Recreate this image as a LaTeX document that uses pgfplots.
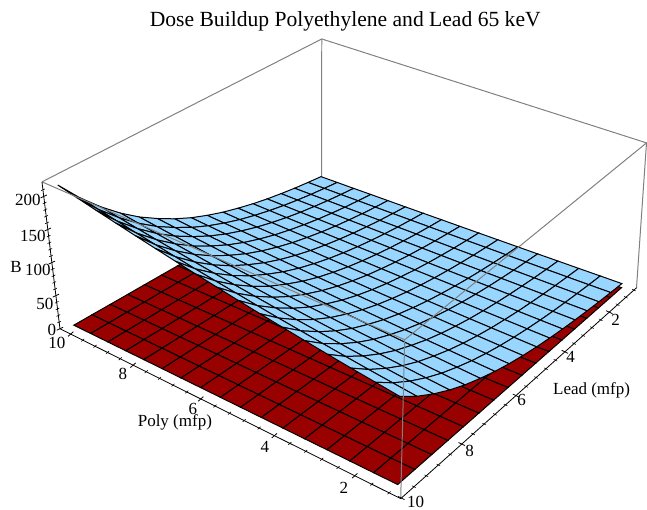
\documentclass[border=0pt]{standalone}
\usepackage{fontspec}
\setmainfont{Liberation Serif}
\usepackage{pgfplots}
\usepackage{pgfplotstable}
\pgfplotsset{compat=1.18}

% poly (mfp), lead (mfp), B of the blue sheet, B of the red sheet
\pgfplotstableread[row sep=\\]{
poly lead b red\\
10.2 0.9 12.3 1\\ 10.2 1.45 14.7 1\\ 10.2 2.01 17.6 1\\ 10.2 2.56 21.1 1\\ 10.2 3.11 25.1 1\\ 10.2 3.66 30 1\\ 10.2 4.22 36 1\\ 10.2 4.77 42.8 1\\ 10.2 5.33 51.3 1\\ 10.2 5.88 61.1 1\\ 10.2 6.43 73.1 1\\ 10.2 6.98 87.5 1\\ 10.2 7.54 104.4 1\\ 10.2 8.09 124.8 1\\ 10.2 8.64 149.1 1\\ 10.2 9.2 178.3 1\\ 10.2 9.75 213 1\\
9.64 0.9 11.9 1\\ 9.64 1.45 14.3 1\\ 9.64 2.01 17 1\\ 9.64 2.56 20.4 1\\ 9.64 3.11 24.3 1\\ 9.64 3.66 29.1 1\\ 9.64 4.22 34.8 1\\ 9.64 4.77 41.4 1\\ 9.64 5.33 49.7 1\\ 9.64 5.88 59.2 1\\ 9.64 6.43 70.7 1\\ 9.64 6.98 84.7 1\\ 9.64 7.54 101 1\\ 9.64 8.09 120.8 1\\ 9.64 8.64 144.3 1\\ 9.64 9.2 172.6 1\\ 9.64 9.75 206.2 1\\
9.08 0.9 11.5 1\\ 9.08 1.45 13.8 1\\ 9.08 2.01 16.5 1\\ 9.08 2.56 19.8 1\\ 9.08 3.11 23.5 1\\ 9.08 3.66 28.1 1\\ 9.08 4.22 33.7 1\\ 9.08 4.77 40.1 1\\ 9.08 5.33 48.1 1\\ 9.08 5.88 57.3 1\\ 9.08 6.43 68.4 1\\ 9.08 6.98 82 1\\ 9.08 7.54 97.8 1\\ 9.08 8.09 116.9 1\\ 9.08 8.64 139.7 1\\ 9.08 9.2 167 1\\ 9.08 9.75 199.5 1\\
8.51 0.9 11.2 1\\ 8.51 1.45 13.4 1\\ 8.51 2.01 15.9 1\\ 8.51 2.56 19.1 1\\ 8.51 3.11 22.8 1\\ 8.51 3.66 27.2 1\\ 8.51 4.22 32.6 1\\ 8.51 4.77 38.8 1\\ 8.51 5.33 46.5 1\\ 8.51 5.88 55.4 1\\ 8.51 6.43 66.2 1\\ 8.51 6.98 79.3 1\\ 8.51 7.54 94.6 1\\ 8.51 8.09 113.1 1\\ 8.51 8.64 135.1 1\\ 8.51 9.2 161.5 1\\ 8.51 9.75 193 1\\
7.95 0.9 10.8 1\\ 7.95 1.45 12.9 1\\ 7.95 2.01 15.4 1\\ 7.95 2.56 18.5 1\\ 7.95 3.11 22 1\\ 7.95 3.66 26.3 1\\ 7.95 4.22 31.6 1\\ 7.95 4.77 37.5 1\\ 7.95 5.33 45 1\\ 7.95 5.88 53.6 1\\ 7.95 6.43 64 1\\ 7.95 6.98 76.7 1\\ 7.95 7.54 91.5 1\\ 7.95 8.09 109.4 1\\ 7.95 8.64 130.7 1\\ 7.95 9.2 156.3 1\\ 7.95 9.75 186.7 1\\
7.39 0.9 10.4 1\\ 7.39 1.45 12.5 1\\ 7.39 2.01 14.9 1\\ 7.39 2.56 17.9 1\\ 7.39 3.11 21.3 1\\ 7.39 3.66 25.5 1\\ 7.39 4.22 30.5 1\\ 7.39 4.77 36.3 1\\ 7.39 5.33 43.5 1\\ 7.39 5.88 51.8 1\\ 7.39 6.43 61.9 1\\ 7.39 6.98 74.2 1\\ 7.39 7.54 88.5 1\\ 7.39 8.09 105.8 1\\ 7.39 8.64 126.4 1\\ 7.39 9.2 151.2 1\\ 7.39 9.75 180.6 1\\
6.83 0.9 10.1 1\\ 6.83 1.45 12.1 1\\ 6.83 2.01 14.4 1\\ 6.83 2.56 17.3 1\\ 6.83 3.11 20.6 1\\ 6.83 3.66 24.6 1\\ 6.83 4.22 29.5 1\\ 6.83 4.77 35.1 1\\ 6.83 5.33 42.1 1\\ 6.83 5.88 50.1 1\\ 6.83 6.43 59.9 1\\ 6.83 6.98 71.8 1\\ 6.83 7.54 85.6 1\\ 6.83 8.09 102.3 1\\ 6.83 8.64 122.2 1\\ 6.83 9.2 146.1 1\\ 6.83 9.75 174.6 1\\
6.26 0.9 9.8 1\\ 6.26 1.45 11.7 1\\ 6.26 2.01 13.9 1\\ 6.26 2.56 16.7 1\\ 6.26 3.11 19.9 1\\ 6.26 3.66 23.8 1\\ 6.26 4.22 28.5 1\\ 6.26 4.77 33.9 1\\ 6.26 5.33 40.7 1\\ 6.26 5.88 48.4 1\\ 6.26 6.43 57.9 1\\ 6.26 6.98 69.4 1\\ 6.26 7.54 82.7 1\\ 6.26 8.09 98.9 1\\ 6.26 8.64 118.2 1\\ 6.26 9.2 141.3 1\\ 6.26 9.75 168.8 1\\
5.7 0.9 9.4 1\\ 5.7 1.45 11.3 1\\ 5.7 2.01 13.5 1\\ 5.7 2.56 16.2 1\\ 5.7 3.11 19.3 1\\ 5.7 3.66 23 1\\ 5.7 4.22 27.6 1\\ 5.7 4.77 32.8 1\\ 5.7 5.33 39.4 1\\ 5.7 5.88 46.9 1\\ 5.7 6.43 56 1\\ 5.7 6.98 67.1 1\\ 5.7 7.54 80 1\\ 5.7 8.09 95.7 1\\ 5.7 8.64 114.3 1\\ 5.7 9.2 136.7 1\\ 5.7 9.75 163.3 1\\
5.14 0.9 9.1 1\\ 5.14 1.45 10.9 1\\ 5.14 2.01 13 1\\ 5.14 2.56 15.6 1\\ 5.14 3.11 18.6 1\\ 5.14 3.66 22.2 1\\ 5.14 4.22 26.7 1\\ 5.14 4.77 31.7 1\\ 5.14 5.33 38 1\\ 5.14 5.88 45.3 1\\ 5.14 6.43 54.1 1\\ 5.14 6.98 64.9 1\\ 5.14 7.54 77.3 1\\ 5.14 8.09 92.5 1\\ 5.14 8.64 110.5 1\\ 5.14 9.2 132.1 1\\ 5.14 9.75 157.8 1\\
4.58 0.9 8.8 1\\ 4.58 1.45 10.6 1\\ 4.58 2.01 12.6 1\\ 4.58 2.56 15.1 1\\ 4.58 3.11 18 1\\ 4.58 3.66 21.5 1\\ 4.58 4.22 25.8 1\\ 4.58 4.77 30.7 1\\ 4.58 5.33 36.8 1\\ 4.58 5.88 43.8 1\\ 4.58 6.43 52.3 1\\ 4.58 6.98 62.7 1\\ 4.58 7.54 74.8 1\\ 4.58 8.09 89.4 1\\ 4.58 8.64 106.8 1\\ 4.58 9.2 127.7 1\\ 4.58 9.75 152.6 1\\
4.01 0.9 8.5 1\\ 4.01 1.45 10.2 1\\ 4.01 2.01 12.2 1\\ 4.01 2.56 14.6 1\\ 4.01 3.11 17.4 1\\ 4.01 3.66 20.8 1\\ 4.01 4.22 24.9 1\\ 4.01 4.77 29.7 1\\ 4.01 5.33 35.6 1\\ 4.01 5.88 42.4 1\\ 4.01 6.43 50.6 1\\ 4.01 6.98 60.7 1\\ 4.01 7.54 72.3 1\\ 4.01 8.09 86.5 1\\ 4.01 8.64 103.3 1\\ 4.01 9.2 123.5 1\\ 4.01 9.75 147.6 1\\
3.45 0.9 8.2 1\\ 3.45 1.45 9.9 1\\ 3.45 2.01 11.8 1\\ 3.45 2.56 14.1 1\\ 3.45 3.11 16.8 1\\ 3.45 3.66 20.1 1\\ 3.45 4.22 24.1 1\\ 3.45 4.77 28.7 1\\ 3.45 5.33 34.4 1\\ 3.45 5.88 41 1\\ 3.45 6.43 48.9 1\\ 3.45 6.98 58.6 1\\ 3.45 7.54 69.9 1\\ 3.45 8.09 83.6 1\\ 3.45 8.64 99.9 1\\ 3.45 9.2 119.4 1\\ 3.45 9.75 142.7 1\\
2.89 0.9 8 1\\ 2.89 1.45 9.5 1\\ 2.89 2.01 11.4 1\\ 2.89 2.56 13.7 1\\ 2.89 3.11 16.3 1\\ 2.89 3.66 19.5 1\\ 2.89 4.22 23.3 1\\ 2.89 4.77 27.7 1\\ 2.89 5.33 33.3 1\\ 2.89 5.88 39.6 1\\ 2.89 6.43 47.3 1\\ 2.89 6.98 56.7 1\\ 2.89 7.54 67.6 1\\ 2.89 8.09 80.9 1\\ 2.89 8.64 96.6 1\\ 2.89 9.2 115.5 1\\ 2.89 9.75 138 1\\
2.33 0.9 7.7 1\\ 2.33 1.45 9.2 1\\ 2.33 2.01 11 1\\ 2.33 2.56 13.2 1\\ 2.33 3.11 15.8 1\\ 2.33 3.66 18.8 1\\ 2.33 4.22 22.6 1\\ 2.33 4.77 26.8 1\\ 2.33 5.33 32.2 1\\ 2.33 5.88 38.3 1\\ 2.33 6.43 45.8 1\\ 2.33 6.98 54.9 1\\ 2.33 7.54 65.4 1\\ 2.33 8.09 78.2 1\\ 2.33 8.64 93.5 1\\ 2.33 9.2 111.7 1\\ 2.33 9.75 133.5 1\\
1.76 0.9 7.5 1\\ 1.76 1.45 8.9 1\\ 1.76 2.01 10.7 1\\ 1.76 2.56 12.8 1\\ 1.76 3.11 15.2 1\\ 1.76 3.66 18.2 1\\ 1.76 4.22 21.8 1\\ 1.76 4.77 26 1\\ 1.76 5.33 31.1 1\\ 1.76 5.88 37.1 1\\ 1.76 6.43 44.3 1\\ 1.76 6.98 53.1 1\\ 1.76 7.54 63.3 1\\ 1.76 8.09 75.7 1\\ 1.76 8.64 90.4 1\\ 1.76 9.2 108.1 1\\ 1.76 9.75 129.2 1\\
1.2 0.9 7.2 1\\ 1.2 1.45 8.7 1\\ 1.2 2.01 10.3 1\\ 1.2 2.56 12.4 1\\ 1.2 3.11 14.8 1\\ 1.2 3.66 17.6 1\\ 1.2 4.22 21.1 1\\ 1.2 4.77 25.1 1\\ 1.2 5.33 30.1 1\\ 1.2 5.88 35.9 1\\ 1.2 6.43 42.9 1\\ 1.2 6.98 51.4 1\\ 1.2 7.54 61.3 1\\ 1.2 8.09 73.3 1\\ 1.2 8.64 87.5 1\\ 1.2 9.2 104.6 1\\ 1.2 9.75 125 1\\
}\sheets

\definecolor{boxgray}{gray}{0.5}

% the plot is in perspective: column values are projected to picture pixels
\pgfplotsset{
  table/proj/.style={
    x expr={PX(\thisrow{poly},\thisrow{lead},\thisrow{#1})},
    y expr={PY(\thisrow{poly},\thisrow{lead},\thisrow{#1})},
    z expr=0},
  table/proj/.default=b,
  sheet/.style={surf,shader=faceted,faceted color=black,line width=1pt,
    mesh/rows=17,mesh/cols=17,z buffer=none,point meta=#1}
}
\newcommand{\lab}[3]{\node[font=\fontsize{17}{17}\selectfont,inner sep=0pt] at (axis cs:#1,510-#2,0) {#3};}

\begin{document}
\begin{tikzpicture}
\begin{axis}[
  scale only axis,width=647pt,height=510pt,hide axis,clip=false,view={0}{90},
  xmin=0,xmax=647,ymin=0,ymax=510,zmin=-1,zmax=1,
  colormap={sheets}{rgb255=(153,0,0) rgb255=(153,214,255)},
  point meta min=0,point meta max=1,
  declare function={
    ss(\xa)=(\xa-0.935)/9.425;
    tt(\xa)=(10.02-\xa)/9.35;
    ww(\xa)=\xa/222;
    fd(\xa,\xb)=1+0.2223*\xa+0.2674*\xb;
    gd(\xa,\xb)=1+0.1799*\xa+0.2719*\xb;
    fx(\xa,\xb)=(401-327.66*\xa+406.3*\xb)/fd(\xa,\xb);
    fy(\xa,\xb)=(499-96.9*\xa-134*\xb)/fd(\xa,\xb);
    gx(\xa,\xb)=(405-355.44*\xa+417.9*\xb)/gd(\xa,\xb);
    gy(\xa,\xb)=(340-125.26*\xa-158.12*\xb)/gd(\xa,\xb);
    PX(\xa,\xb,\xc)=(1-ww(\xc))*fx(ss(\xa),tt(\xb))+ww(\xc)*gx(ss(\xa),tt(\xb));
    PY(\xa,\xb,\xc)=510-((1-ww(\xc))*fy(ss(\xa),tt(\xb))+ww(\xc)*gy(ss(\xa),tt(\xb)));
  }]

% hide axis leaves the page to the drawn things, so span it here
\path (axis cs:0,0,0) -- (axis cs:647,510,0);

% rear edges of the box
\addplot3[boxgray,line width=1pt] table[proj,row sep=\\]{
poly lead b\\ 10.36 10.02 222\\ 10.36 0.67 222\\ 0.935 0.67 222\\ 0.935 0.67 0\\ };
\addplot3[boxgray,line width=1pt] table[proj,row sep=\\]{
poly lead b\\ 10.36 0.67 222\\ 10.36 0.67 0\\ };

\addplot3[sheet=0] table[proj=red] {\sheets};
\addplot3[sheet=1] table[proj=b] {\sheets};

% front edges of the box
\addplot3[boxgray,line width=1pt] table[proj,row sep=\\]{
poly lead b\\ 10.36 10.02 222\\ 0.935 10.02 222\\ 0.935 0.67 222\\ };
\addplot3[boxgray,line width=1pt] table[proj,row sep=\\]{
poly lead b\\ 0.935 10.02 222\\ 0.935 10.02 0\\ };

% axes
\addplot3[black,line width=0.8pt] table[proj,row sep=\\]{
poly lead b\\ 10.36 10.02 222\\ 10.36 10.02 0\\ 0.935 10.02 0\\ 0.935 0.67 0\\ };

% ticks
\addplot3[only marks,mark=-,mark size=3.5pt,mark options={rotate=41,line width=0.8pt}] table[proj,row sep=\\]{
poly lead b\\ 2 10.02 0\\ 4 10.02 0\\ 6 10.02 0\\ 8 10.02 0\\ 10 10.02 0\\ };
\addplot3[only marks,mark=-,mark size=2pt,mark options={rotate=41,line width=0.6pt}] table[proj,row sep=\\]{
poly lead b\\ 1.2 10.02 0\\ 1.6 10.02 0\\ 2.4 10.02 0\\ 2.8 10.02 0\\ 3.2 10.02 0\\ 3.6 10.02 0\\ 4.4 10.02 0\\ 4.8 10.02 0\\ 5.2 10.02 0\\ 5.6 10.02 0\\ 6.4 10.02 0\\ 6.8 10.02 0\\ 7.2 10.02 0\\ 7.6 10.02 0\\ 8.4 10.02 0\\ 8.8 10.02 0\\ 9.2 10.02 0\\ 9.6 10.02 0\\ };
\addplot3[only marks,mark=-,mark size=3.5pt,mark options={rotate=-26,line width=0.8pt}] table[proj,row sep=\\]{
poly lead b\\ 0.935 2 0\\ 0.935 4 0\\ 0.935 6 0\\ 0.935 8 0\\ 0.935 10 0\\ };
\addplot3[only marks,mark=-,mark size=2pt,mark options={rotate=-26,line width=0.6pt}] table[proj,row sep=\\]{
poly lead b\\ 0.935 0.8 0\\ 0.935 1.2 0\\ 0.935 1.6 0\\ 0.935 2.4 0\\ 0.935 2.8 0\\ 0.935 3.2 0\\ 0.935 3.6 0\\ 0.935 4.4 0\\ 0.935 4.8 0\\ 0.935 5.2 0\\ 0.935 5.6 0\\ 0.935 6.4 0\\ 0.935 6.8 0\\ 0.935 7.2 0\\ 0.935 7.6 0\\ 0.935 8.4 0\\ 0.935 8.8 0\\ 0.935 9.2 0\\ 0.935 9.6 0\\ };
\addplot3[only marks,mark=-,mark size=3.5pt,mark options={rotate=25,line width=0.8pt}] table[proj,row sep=\\]{
poly lead b\\ 10.36 10.02 0\\ 10.36 10.02 50\\ 10.36 10.02 100\\ 10.36 10.02 150\\ 10.36 10.02 200\\ };
\addplot3[only marks,mark=-,mark size=2pt,mark options={rotate=25,line width=0.6pt}] table[proj,row sep=\\]{
poly lead b\\ 10.36 10.02 10\\ 10.36 10.02 20\\ 10.36 10.02 30\\ 10.36 10.02 40\\ 10.36 10.02 60\\ 10.36 10.02 70\\ 10.36 10.02 80\\ 10.36 10.02 90\\ 10.36 10.02 110\\ 10.36 10.02 120\\ 10.36 10.02 130\\ 10.36 10.02 140\\ 10.36 10.02 160\\ 10.36 10.02 170\\ 10.36 10.02 180\\ 10.36 10.02 190\\ 10.36 10.02 210\\ };

% tick labels and titles, placed as in the reference (pixels from the top)
\lab{57}{343}{10}\lab{123}{374}{8}\lab{193}{409}{6}\lab{265}{447}{4}\lab{344}{488}{2}
\lab{416}{502}{10}\lab{470}{451}{8}\lab{522}{400}{6}\lab{571}{357}{4}\lab{616}{320}{2}
\lab{52}{330}{0}\lab{45}{304}{50}\lab{38}{270}{100}\lab{33}{236}{150}\lab{28}{200}{200}
\lab{16}{267}{B}\lab{175}{423}{Poly (mfp)}\lab{592}{391}{Lead (mfp)}
\node[font=\fontsize{21.6}{22}\selectfont,inner sep=0pt] at (axis cs:345.5,510-21,0) {Dose Buildup Polyethylene and Lead 65 keV};
\end{axis}
\end{tikzpicture}
\end{document}
